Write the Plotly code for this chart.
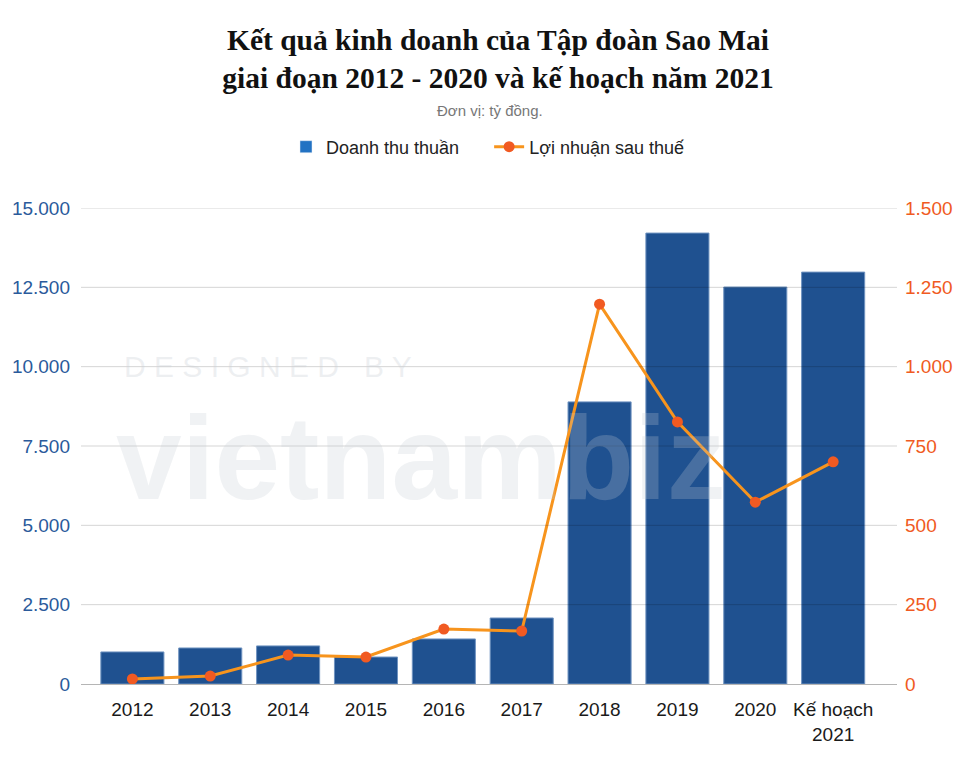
import plotly.graph_objects as go

# data (tỷ đồng)
years = ["2012", "2013", "2014", "2015", "2016", "2017", "2018", "2019", "2020", "Kế hoạch<br>2021"]
revenue = [1010, 1135, 1200, 850, 1420, 2080, 8890, 14210, 12510, 12980]
profit = [16, 25, 91, 85, 173, 167, 1197, 826, 573, 700]

left_ticks = [0, 2500, 5000, 7500, 10000, 12500, 15000]
right_ticks = [0, 250, 500, 750, 1000, 1250, 1500]

bar_color = "#1f5190"
legend_blue = "#2272c3"
line_color = "#f7941d"
dot_color = "#f15a22"
sans = "Liberation Sans"


# helpers: pixel position -> paper coords (plot area 81..897 x 208..684 on the page)
def px(x):
    return (x - 81) / 816


def py(y):
    return (684 - y) / 476


fig = go.Figure()

# bars (legend entry drawn by a dummy trace with the lighter swatch)
fig.add_trace(go.Bar(
    x=years, y=revenue, marker_color=bar_color,
    marker_line=dict(color="#6f93c0", width=1),
    showlegend=False, name="Doanh thu thuần",
))
fig.add_trace(go.Bar(
    x=[None], y=[None], marker_color=legend_blue,
    name="Doanh thu thuần&nbsp;&nbsp;&nbsp;&nbsp;&nbsp;",
))
fig.add_trace(go.Scatter(
    x=years, y=profit, yaxis="y2", mode="lines+markers",
    line=dict(color=line_color, width=3),
    marker=dict(color=dot_color, size=11),
    name="Lợi nhuận sau thuế",
))

# gridlines drawn over the bars, like the reference
for v in left_ticks[1:]:
    fig.add_hline(y=v, line_color="rgba(0,0,0,0.17)", line_width=1, layer="above")

# faint watermark
fig.add_annotation(text="D E S I G N E D   B Y", xref="paper", yref="paper",
                   x=px(122), y=py(366), xanchor="left", yanchor="middle", showarrow=False,
                   font=dict(family=sans, size=30, color="rgba(205,210,216,0.35)"))
fig.add_annotation(text="<b>vietnambiz</b>", xref="paper", yref="paper",
                   x=px(114), y=py(458), xanchor="left", yanchor="middle", showarrow=False,
                   font=dict(family=sans, size=118, color="rgba(195,203,212,0.25)"))

# subtitle
fig.add_annotation(text="Đơn vị: tỷ đồng.", xref="paper", yref="paper", x=px(490), xanchor="center",
                   y=py(110), yanchor="middle", showarrow=False,
                   font=dict(family=sans, size=15, color="#777777"))

fig.update_layout(
    width=980, height=764,
    margin=dict(l=73, r=91, t=200, b=88, autoexpand=False),
    paper_bgcolor="white", plot_bgcolor="white",
    separators=",.",
    bargap=0.19,
    title=dict(
        text="<b>Kết quả kinh doanh của Tập đoàn Sao Mai<br>giai đoạn 2012 - 2020 và kế hoạch năm 2021</b>",
        x=0.5, xanchor="center", y=0.945, yanchor="middle",
        font=dict(family="Liberation Serif", size=29.5, color="#111111"),
    ),
    legend=dict(
        orientation="h", x=px(488), xanchor="center",
        y=py(147), yanchor="middle",
        font=dict(family=sans, size=18, color="#222222"),
        traceorder="normal",
    ),
    xaxis=dict(
        range=[-0.66, 9.82], automargin=False,
        tickfont=dict(family=sans, size=19, color="#1a1a1a"),
        showgrid=False, showline=False, ticks="", ticklabelstandoff=12,
    ),
    yaxis=dict(
        range=[0, 15000], tickvals=left_ticks, tickformat=",d", automargin=False,
        tickfont=dict(family=sans, size=19, color="#2a5a9b"),
        showgrid=False,
        zeroline=True, zerolinecolor="#b5b5b5", zerolinewidth=1,
        ticks="", ticklabelstandoff=10,
    ),
    yaxis2=dict(
        range=[0, 1500], tickvals=right_ticks, tickformat=",d", automargin=False,
        overlaying="y", side="right",
        tickfont=dict(family=sans, size=19, color="#f05a22"),
        showgrid=False, zeroline=False, ticks="", ticklabelstandoff=7,
    ),
)

fig.write_html("out.html")
